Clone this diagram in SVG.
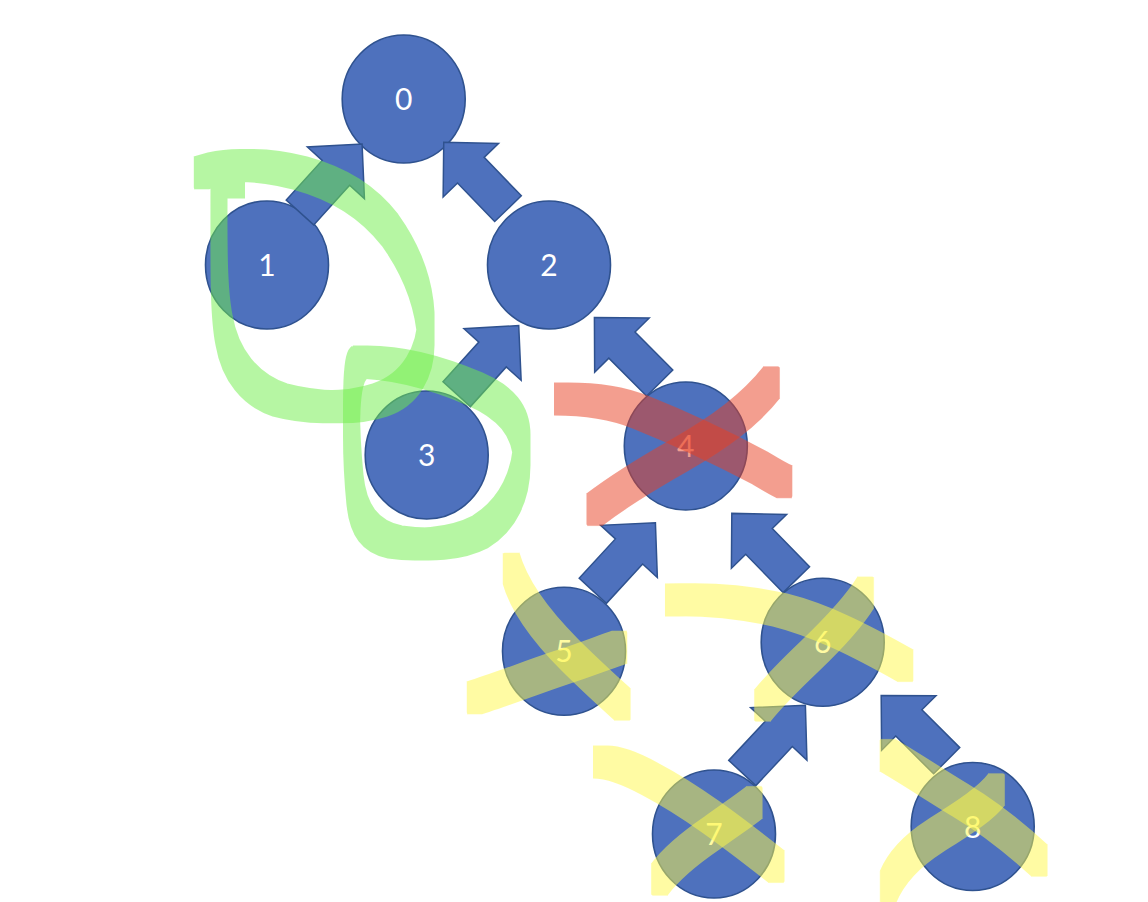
<svg xmlns="http://www.w3.org/2000/svg" width="1148" height="902" viewBox="0 0 1148 902">
<style>
.node{fill:#4e71bd;stroke:#2f528f;stroke-width:1.6}
.lbl{font-family:Lato,"Open Sans","Liberation Sans",sans-serif;font-size:30px;fill:#ffffff;text-anchor:middle}
.arr{fill:#4e71bd;stroke:#2f528f;stroke-width:1.5;stroke-linejoin:miter}
.hl{fill:none;stroke-width:3;stroke-linejoin:round;stroke-linecap:butt;opacity:0.5}
.g{stroke:#6fef49}
.r{stroke:#e94123}
.y{stroke:#fff949}
</style>
<defs>
<filter id="nib" filterUnits="userSpaceOnUse" x="0" y="0" width="1148" height="902">
<feMorphology operator="dilate" radius="7 15"/>
</filter>
<path id="ah" d="M0,-18.5 H53.5 V-38.5 L92.5,0 L53.5,38.5 V18.5 H0 Z"/>
</defs>
<rect width="1148" height="902" fill="#ffffff"/>
<g id="nodes">
<g id="n0"><ellipse class="node" cx="403.7" cy="99" rx="61.5" ry="64"/><text class="lbl" x="403.7" y="110">0</text></g>
<g id="n1"><ellipse class="node" cx="267" cy="265" rx="61.5" ry="64"/><text class="lbl" x="267" y="276">1</text></g>
<g id="n2"><ellipse class="node" cx="549" cy="265" rx="61.5" ry="64"/><text class="lbl" x="549" y="276">2</text></g>
<g id="n3"><ellipse class="node" cx="426.7" cy="455" rx="61.5" ry="64"/><text class="lbl" x="426.7" y="466">3</text></g>
<g id="n4"><ellipse class="node" cx="685.8" cy="446" rx="61.5" ry="64"/><text class="lbl" x="685.8" y="457">4</text></g>
<g id="n5"><ellipse class="node" cx="564" cy="651.3" rx="61.5" ry="64"/><text class="lbl" x="564" y="662.3">5</text></g>
<g id="n6"><ellipse class="node" cx="822.7" cy="642.3" rx="61.5" ry="64"/><text class="lbl" x="822.7" y="653.3">6</text></g>
<g id="n7"><ellipse class="node" cx="714" cy="834" rx="61.5" ry="64"/><text class="lbl" x="714" y="845">7</text></g>
<g id="n8"><ellipse class="node" cx="972.7" cy="826.5" rx="61.5" ry="64"/><text class="lbl" x="972.7" y="837.5">8</text></g>
</g>
<g id="connectors">
<use href="#ah" class="arr" transform="translate(300,212.5) rotate(-47.85)"/>
<use href="#ah" class="arr" transform="translate(508,208.7) rotate(-134)"/>
<use href="#ah" class="arr" transform="translate(456.7,394.2) rotate(-47.9)"/>
<use href="#ah" class="arr" transform="translate(659.7,383) rotate(-134.9)"/>
<use href="#ah" class="arr" transform="translate(592.8,590.8) rotate(-47.4)"/>
<use href="#ah" class="arr" transform="translate(796.3,579.7) rotate(-134.2)"/>
<use href="#ah" class="arr" transform="translate(742.3,773) rotate(-47)"/>
<use href="#ah" class="arr" transform="translate(946.7,760.7) rotate(-135.1)"/>
</g>
<g id="highlights" filter="none">
<path class="hl g" filter="url(#nib)" d="M201,173 L215,169 C240,163 270,165 300,173 C340,184 368,202 390,230 C410,258 424,292 426,327 C427,362 410,390 380,400 C350,410 310,408 280,400 C250,390 230,365 224,330 C218,300 219,250 219,190 L219,182 L238,182"/>
<path class="hl g" filter="url(#nib)" d="M360,362 C400,362 440,374 475,389 C505,402 522,420 522,450 C522,485 508,515 480,532 C455,545 420,546 395,542 C370,537 358,520 355,490 C352,460 351,420 352,395 C353,375 355,365 360,362"/>
<path class="hl r" filter="url(#nib)" d="M561,399 C590,399 615,402 640,412 C680,428 730,452 760,468 C770,474 778,479 785,482"/>
<path class="hl r" filter="url(#nib)" d="M594,510 C620,490 650,472 680,455 C720,432 750,410 772,382"/>
<path class="hl y" filter="url(#nib)" d="M511,568 C520,600 545,630 570,655 C590,675 610,693 623,705"/>
<path class="hl y" filter="url(#nib)" d="M474,698 C500,690 530,678 560,668 C585,660 605,652 620,647"/>
<path class="hl y" filter="url(#nib)" d="M672,600 C700,599 740,601 780,610 C820,620 860,640 906,666"/>
<path class="hl y" filter="url(#nib)" d="M762,706 C775,690 790,675 810,656 C835,632 855,610 866,592"/>
<path class="hl y" filter="url(#nib)" d="M600,762 C615,762 630,768 650,779 C690,800 730,830 777,867"/>
<path class="hl y" filter="url(#nib)" d="M659,880 C670,865 690,848 712,833 C730,820 745,810 755,802"/>
<path class="hl y" filter="url(#nib)" d="M887,755 C905,765 935,785 960,800 C990,818 1015,838 1040,861"/>
<path class="hl y" filter="url(#nib)" d="M888,887 C895,870 910,852 935,836 C960,820 985,805 997,789"/>
</g>
</svg>
